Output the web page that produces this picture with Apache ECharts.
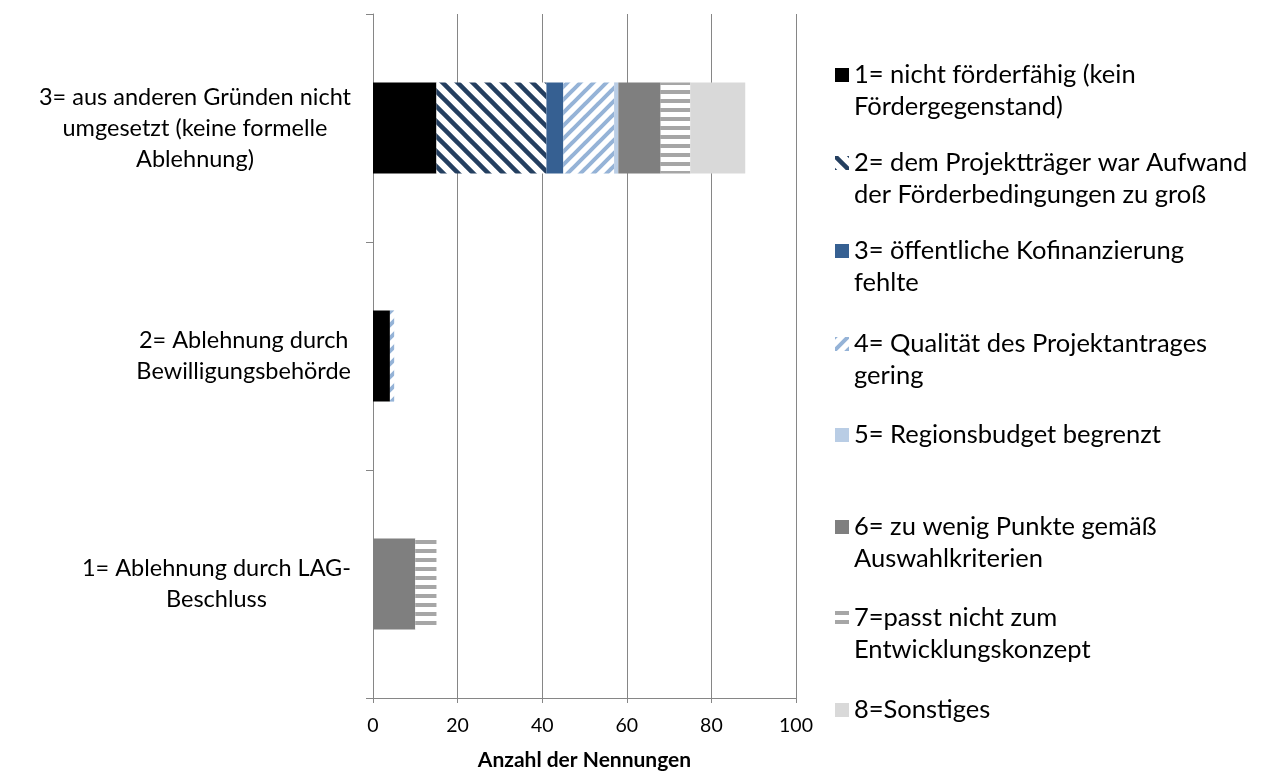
<!DOCTYPE html>
<html>
<head>
<meta charset="utf-8">
<script src="https://cdn.jsdelivr.net/npm/echarts@6/dist/echarts.min.js"></script>
<style>
html,body{margin:0;padding:0;background:#fff;}
#chart{width:1261px;height:776px;}
</style>
</head>
<body>
<div id="chart"></div>
<script>
// ---- data ----
var categories = [
  '1= Ablehnung durch LAG-\nBeschluss',
  '2= Ablehnung durch\nBewilligungsbehörde',
  '3= aus anderen Gründen nicht\numgesetzt (keine formelle\nAblehnung)'
];
var seriesNames = [
  '1= nicht förderfähig (kein\nFördergegenstand)',
  '2= dem Projektträger war Aufwand\nder Förderbedingungen zu groß',
  '3= öffentliche Kofinanzierung\nfehlte',
  '4= Qualität des Projektantrages\ngering',
  '5= Regionsbudget begrenzt',
  '6= zu wenig Punkte gemäß\nAuswahlkriterien',
  '7=passt nicht zum\nEntwicklungskonzept',
  '8=Sonstiges'
];
var vNichtFoerderfaehig = [0, 4, 15];
var vAufwand = [0, 0, 26];
var vKofinanzierung = [0, 0, 4];
var vQualitaet = [0, 1, 12];
var vRegionsbudget = [0, 0, 1];
var vPunkte = [10, 0, 10];
var vKonzept = [5, 0, 7];
var vSonstiges = [0, 0, 13];
var xTicks = [0, 20, 40, 60, 80, 100];
var axisTitle = 'Anzahl der Nennungen';

var seriesValues = [vNichtFoerderfaehig, vAufwand, vKofinanzierung, vQualitaet, vRegionsbudget, vPunkte, vKonzept, vSonstiges];

// ---- patterns ----
function diagPattern(T, lw, color, down) {
  var c = document.createElement('canvas');
  c.width = T; c.height = T;
  var g = c.getContext('2d');
  g.fillStyle = '#fff'; g.fillRect(0, 0, T, T);
  g.strokeStyle = color; g.lineWidth = lw; g.lineCap = 'square';
  [-T, 0, T].forEach(function (k) {
    g.beginPath();
    if (down) { g.moveTo(k, 0); g.lineTo(k + T, T); }
    else { g.moveTo(k, T); g.lineTo(k + T, 0); }
    g.stroke();
  });
  return { image: c, repeat: 'repeat' };
}
function hPattern(T, h, color) {
  var c = document.createElement('canvas');
  c.width = 8; c.height = T;
  var g = c.getContext('2d');
  g.fillStyle = '#fff'; g.fillRect(0, 0, 8, T);
  g.fillStyle = color; g.fillRect(0, 0, 8, h);
  return { image: c, repeat: 'repeat' };
}

var fills = [
  '#000000',
  diagPattern(15, 4.5, '#243F60', true),
  '#366092',
  diagPattern(13, 4, '#95B3D7', false),
  '#B9CDE5',
  '#7F7F7F',
  hPattern(9, 4, '#A6A6A6'),
  '#D9D9D9'
];

var FONT = 'Lato';
var legendCenters = [75, 163, 251, 344, 435, 527, 618, 710];
var LH = 32;

var series = seriesNames.map(function (n, i) {
  return {
    name: n,
    type: 'bar',
    stack: 'total',
    barWidth: '40%',
    data: seriesValues[i],
    itemStyle: { color: fills[i] },
    emphasis: { disabled: true }
  };
});

var legends = seriesNames.map(function (n, i) {
  var lines = n.split('\n').length;
  var total = lines === 1 ? 1 : lines * 2 - 1; // blank lines above keep the first line on the icon
  var H = total * LH;
  return {
    left: 835,
    top: legendCenters[i] - H / 2,
    padding: 0,
    orient: 'vertical',
    itemWidth: 14,
    itemHeight: 14,
    itemGap: 0,
    icon: 'rect',
    selectedMode: false,
    data: [n],
    formatter: function (name) {
      var pre = '';
      for (var k = 1; k < lines; k++) pre += ' \n';
      return pre + name;
    },
    textStyle: { fontFamily: FONT, fontSize: 25.5, color: '#000', lineHeight: LH }
  };
});

var chart = echarts.init(document.getElementById('chart'), null, { renderer: 'canvas' });
chart.setOption({
  animation: false,
  backgroundColor: '#fff',
  grid: { left: 373, right: 465, top: 14, bottom: 73, containLabel: false },
  legend: legends,
  xAxis: {
    type: 'value',
    min: xTicks[0],
    max: xTicks[xTicks.length - 1],
    interval: xTicks[1] - xTicks[0],
    name: axisTitle,
    nameLocation: 'middle',
    nameGap: 52,
    nameTextStyle: { fontFamily: FONT, fontSize: 21, fontWeight: 'bold', color: '#000' },
    axisLine: { show: true, lineStyle: { color: '#868686', width: 1 } },
    axisTick: { show: true, length: 5, lineStyle: { color: '#868686' } },
    axisLabel: { fontFamily: FONT, fontSize: 19.5, color: '#000', margin: 18 },
    splitLine: { show: true, lineStyle: { color: '#868686', width: 1 } }
  },
  yAxis: {
    type: 'category',
    data: categories,
    axisLine: { show: true, lineStyle: { color: '#868686', width: 1 } },
    axisTick: { show: true, length: 7, lineStyle: { color: '#868686' } },
    splitLine: { show: false },
    axisLabel: {
      margin: 22,
      align: 'right',
      formatter: function (v) {
        return v.split('\n').map(function (l) { return '{c|' + l + '}'; }).join('\n');
      },
      rich: { c: { align: 'center', fontFamily: FONT, fontSize: 23.5, color: '#000', lineHeight: 31 } }
    }
  },
  series: series
});
</script>
</body>
</html>
